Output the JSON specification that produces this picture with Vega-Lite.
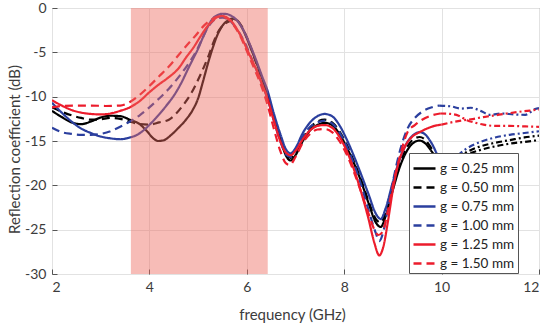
{
  "$schema": "https://vega.github.io/schema/vega-lite/v6.json",
  "width": 487,
  "height": 266,
  "autosize": "none",
  "padding": {"left": 52, "top": 8, "right": 11, "bottom": 52},
  "background": "white",
  "config": {
    "view": {"stroke": "#7a7a7a", "strokeWidth": 1},
    "font": "Lato",
    "axis": {
      "labelFont": "Lato", "titleFont": "Lato", "labelFontSize": 14, "titleFontSize": 15,
      "labelColor": "#3c3c3c", "titleColor": "#3c3c3c", "titleFontWeight": "normal",
      "gridColor": "#e2e2e2", "gridWidth": 1, "domain": false,
      "tickColor": "#555555", "tickSize": -5, "labelPadding": 11
    },
    "legend": {
      "labelFont": "Lato", "labelFontSize": 13.5, "labelColor": "#222222"
    }
  },
  "datasets": {
    "main": [
      {"g":"g = 0.25 mm","f":2.0,"s":-11.6},{"g":"g = 0.25 mm","f":2.2,"s":-12.3},{"g":"g = 0.25 mm","f":2.4,"s":-12.9},{"g":"g = 0.25 mm","f":2.6,"s":-13.1},{"g":"g = 0.25 mm","f":2.8,"s":-12.8},{"g":"g = 0.25 mm","f":3.0,"s":-12.35},{"g":"g = 0.25 mm","f":3.2,"s":-12.15},{"g":"g = 0.25 mm","f":3.4,"s":-12.2},{"g":"g = 0.25 mm","f":3.6,"s":-12.6},{"g":"g = 0.25 mm","f":3.8,"s":-13.1},{"g":"g = 0.25 mm","f":3.95,"s":-13.9},{"g":"g = 0.25 mm","f":4.08,"s":-14.7},{"g":"g = 0.25 mm","f":4.18,"s":-15.0},{"g":"g = 0.25 mm","f":4.3,"s":-14.9},{"g":"g = 0.25 mm","f":4.45,"s":-14.3},{"g":"g = 0.25 mm","f":4.6,"s":-13.5},{"g":"g = 0.25 mm","f":4.75,"s":-12.6},{"g":"g = 0.25 mm","f":4.9,"s":-11.4},{"g":"g = 0.25 mm","f":5.0,"s":-10.2},{"g":"g = 0.25 mm","f":5.1,"s":-8.3},{"g":"g = 0.25 mm","f":5.2,"s":-6.3},{"g":"g = 0.25 mm","f":5.3,"s":-4.5},{"g":"g = 0.25 mm","f":5.4,"s":-3.0},{"g":"g = 0.25 mm","f":5.5,"s":-2.0},{"g":"g = 0.25 mm","f":5.6,"s":-1.45},{"g":"g = 0.25 mm","f":5.7,"s":-1.2},{"g":"g = 0.25 mm","f":5.8,"s":-1.4},{"g":"g = 0.25 mm","f":5.9,"s":-2.2},{"g":"g = 0.25 mm","f":6.0,"s":-3.4},{"g":"g = 0.25 mm","f":6.1,"s":-4.8},{"g":"g = 0.25 mm","f":6.2,"s":-6.2},{"g":"g = 0.25 mm","f":6.3,"s":-7.7},{"g":"g = 0.25 mm","f":6.43,"s":-9.8},{"g":"g = 0.25 mm","f":6.55,"s":-12.3},{"g":"g = 0.25 mm","f":6.7,"s":-15.0},{"g":"g = 0.25 mm","f":6.8,"s":-16.6},{"g":"g = 0.25 mm","f":6.9,"s":-17.2},{"g":"g = 0.25 mm","f":7.0,"s":-16.6},{"g":"g = 0.25 mm","f":7.15,"s":-15.0},{"g":"g = 0.25 mm","f":7.3,"s":-13.8},{"g":"g = 0.25 mm","f":7.45,"s":-13.2},{"g":"g = 0.25 mm","f":7.6,"s":-12.95},{"g":"g = 0.25 mm","f":7.75,"s":-13.2},{"g":"g = 0.25 mm","f":7.9,"s":-14.2},{"g":"g = 0.25 mm","f":8.05,"s":-15.7},{"g":"g = 0.25 mm","f":8.2,"s":-17.5},{"g":"g = 0.25 mm","f":8.35,"s":-19.6},{"g":"g = 0.25 mm","f":8.5,"s":-22.0},{"g":"g = 0.25 mm","f":8.65,"s":-24.2},{"g":"g = 0.25 mm","f":8.75,"s":-24.7},{"g":"g = 0.25 mm","f":8.85,"s":-23.5},{"g":"g = 0.25 mm","f":9.0,"s":-20.5},{"g":"g = 0.25 mm","f":9.15,"s":-17.8},{"g":"g = 0.25 mm","f":9.3,"s":-16.0},{"g":"g = 0.25 mm","f":9.45,"s":-15.1},{"g":"g = 0.25 mm","f":9.55,"s":-14.95},{"g":"g = 0.25 mm","f":9.65,"s":-15.2},{"g":"g = 0.25 mm","f":9.8,"s":-16.2},{"g":"g = 0.25 mm","f":9.95,"s":-17.4},{"g":"g = 0.25 mm","f":10.1,"s":-18.0},

      {"g":"g = 0.50 mm","f":2.0,"s":-11.2},{"g":"g = 0.50 mm","f":2.2,"s":-11.7},{"g":"g = 0.50 mm","f":2.4,"s":-12.1},{"g":"g = 0.50 mm","f":2.6,"s":-12.4},{"g":"g = 0.50 mm","f":2.8,"s":-12.6},{"g":"g = 0.50 mm","f":3.0,"s":-12.55},{"g":"g = 0.50 mm","f":3.2,"s":-12.4},{"g":"g = 0.50 mm","f":3.4,"s":-12.5},{"g":"g = 0.50 mm","f":3.6,"s":-12.8},{"g":"g = 0.50 mm","f":3.8,"s":-13.1},{"g":"g = 0.50 mm","f":4.0,"s":-13.15},{"g":"g = 0.50 mm","f":4.2,"s":-12.9},{"g":"g = 0.50 mm","f":4.4,"s":-12.6},{"g":"g = 0.50 mm","f":4.55,"s":-11.9},{"g":"g = 0.50 mm","f":4.7,"s":-10.9},{"g":"g = 0.50 mm","f":4.85,"s":-9.7},{"g":"g = 0.50 mm","f":5.0,"s":-8.1},{"g":"g = 0.50 mm","f":5.1,"s":-6.9},{"g":"g = 0.50 mm","f":5.2,"s":-5.6},{"g":"g = 0.50 mm","f":5.3,"s":-4.1},{"g":"g = 0.50 mm","f":5.4,"s":-2.8},{"g":"g = 0.50 mm","f":5.5,"s":-2.0},{"g":"g = 0.50 mm","f":5.6,"s":-1.6},{"g":"g = 0.50 mm","f":5.7,"s":-1.4},{"g":"g = 0.50 mm","f":5.8,"s":-1.45},{"g":"g = 0.50 mm","f":5.9,"s":-2.1},{"g":"g = 0.50 mm","f":6.0,"s":-3.3},{"g":"g = 0.50 mm","f":6.1,"s":-4.7},{"g":"g = 0.50 mm","f":6.2,"s":-6.3},{"g":"g = 0.50 mm","f":6.3,"s":-7.9},{"g":"g = 0.50 mm","f":6.43,"s":-10.1},{"g":"g = 0.50 mm","f":6.55,"s":-12.4},{"g":"g = 0.50 mm","f":6.7,"s":-15.0},{"g":"g = 0.50 mm","f":6.8,"s":-16.4},{"g":"g = 0.50 mm","f":6.9,"s":-16.9},{"g":"g = 0.50 mm","f":7.0,"s":-16.3},{"g":"g = 0.50 mm","f":7.15,"s":-14.7},{"g":"g = 0.50 mm","f":7.3,"s":-13.5},{"g":"g = 0.50 mm","f":7.45,"s":-12.8},{"g":"g = 0.50 mm","f":7.6,"s":-12.6},{"g":"g = 0.50 mm","f":7.75,"s":-12.9},{"g":"g = 0.50 mm","f":7.9,"s":-13.9},{"g":"g = 0.50 mm","f":8.05,"s":-15.4},{"g":"g = 0.50 mm","f":8.2,"s":-17.3},{"g":"g = 0.50 mm","f":8.35,"s":-19.4},{"g":"g = 0.50 mm","f":8.5,"s":-21.8},{"g":"g = 0.50 mm","f":8.65,"s":-23.8},{"g":"g = 0.50 mm","f":8.75,"s":-24.2},{"g":"g = 0.50 mm","f":8.85,"s":-23.1},{"g":"g = 0.50 mm","f":9.0,"s":-20.2},{"g":"g = 0.50 mm","f":9.15,"s":-17.4},{"g":"g = 0.50 mm","f":9.3,"s":-15.6},{"g":"g = 0.50 mm","f":9.45,"s":-14.7},{"g":"g = 0.50 mm","f":9.55,"s":-14.55},{"g":"g = 0.50 mm","f":9.65,"s":-14.8},{"g":"g = 0.50 mm","f":9.8,"s":-15.9},{"g":"g = 0.50 mm","f":9.95,"s":-17.2},{"g":"g = 0.50 mm","f":10.1,"s":-17.9},

      {"g":"g = 0.75 mm","f":2.0,"s":-10.7},{"g":"g = 0.75 mm","f":2.2,"s":-11.8},{"g":"g = 0.75 mm","f":2.4,"s":-12.8},{"g":"g = 0.75 mm","f":2.6,"s":-13.6},{"g":"g = 0.75 mm","f":2.8,"s":-14.1},{"g":"g = 0.75 mm","f":3.0,"s":-14.5},{"g":"g = 0.75 mm","f":3.2,"s":-14.7},{"g":"g = 0.75 mm","f":3.4,"s":-14.8},{"g":"g = 0.75 mm","f":3.6,"s":-14.6},{"g":"g = 0.75 mm","f":3.75,"s":-14.3},{"g":"g = 0.75 mm","f":3.9,"s":-13.7},{"g":"g = 0.75 mm","f":4.05,"s":-12.9},{"g":"g = 0.75 mm","f":4.2,"s":-12.0},{"g":"g = 0.75 mm","f":4.35,"s":-11.0},{"g":"g = 0.75 mm","f":4.5,"s":-9.9},{"g":"g = 0.75 mm","f":4.65,"s":-8.5},{"g":"g = 0.75 mm","f":4.8,"s":-6.8},{"g":"g = 0.75 mm","f":4.9,"s":-5.7},{"g":"g = 0.75 mm","f":5.0,"s":-4.6},{"g":"g = 0.75 mm","f":5.1,"s":-3.3},{"g":"g = 0.75 mm","f":5.2,"s":-2.1},{"g":"g = 0.75 mm","f":5.3,"s":-1.2},{"g":"g = 0.75 mm","f":5.4,"s":-0.8},{"g":"g = 0.75 mm","f":5.5,"s":-0.65},{"g":"g = 0.75 mm","f":5.6,"s":-0.7},{"g":"g = 0.75 mm","f":5.7,"s":-0.95},{"g":"g = 0.75 mm","f":5.8,"s":-1.4},{"g":"g = 0.75 mm","f":5.9,"s":-2.2},{"g":"g = 0.75 mm","f":6.0,"s":-3.3},{"g":"g = 0.75 mm","f":6.1,"s":-4.6},{"g":"g = 0.75 mm","f":6.2,"s":-6.0},{"g":"g = 0.75 mm","f":6.3,"s":-7.5},{"g":"g = 0.75 mm","f":6.43,"s":-9.4},{"g":"g = 0.75 mm","f":6.55,"s":-11.8},{"g":"g = 0.75 mm","f":6.7,"s":-14.4},{"g":"g = 0.75 mm","f":6.8,"s":-15.9},{"g":"g = 0.75 mm","f":6.9,"s":-16.4},{"g":"g = 0.75 mm","f":7.0,"s":-15.8},{"g":"g = 0.75 mm","f":7.15,"s":-14.1},{"g":"g = 0.75 mm","f":7.3,"s":-12.9},{"g":"g = 0.75 mm","f":7.45,"s":-12.2},{"g":"g = 0.75 mm","f":7.6,"s":-11.95},{"g":"g = 0.75 mm","f":7.75,"s":-12.2},{"g":"g = 0.75 mm","f":7.9,"s":-13.2},{"g":"g = 0.75 mm","f":8.05,"s":-14.8},{"g":"g = 0.75 mm","f":8.2,"s":-16.7},{"g":"g = 0.75 mm","f":8.35,"s":-18.8},{"g":"g = 0.75 mm","f":8.5,"s":-21.0},{"g":"g = 0.75 mm","f":8.65,"s":-23.2},{"g":"g = 0.75 mm","f":8.75,"s":-23.8},{"g":"g = 0.75 mm","f":8.85,"s":-22.6},{"g":"g = 0.75 mm","f":9.0,"s":-19.6},{"g":"g = 0.75 mm","f":9.15,"s":-16.9},{"g":"g = 0.75 mm","f":9.3,"s":-15.1},{"g":"g = 0.75 mm","f":9.45,"s":-14.2},{"g":"g = 0.75 mm","f":9.55,"s":-14.0},{"g":"g = 0.75 mm","f":9.65,"s":-14.2},{"g":"g = 0.75 mm","f":9.8,"s":-15.3},{"g":"g = 0.75 mm","f":9.95,"s":-16.9},{"g":"g = 0.75 mm","f":10.1,"s":-17.6},

      {"g":"g = 1.00 mm","f":2.0,"s":-13.5},{"g":"g = 1.00 mm","f":2.2,"s":-14.0},{"g":"g = 1.00 mm","f":2.4,"s":-14.2},{"g":"g = 1.00 mm","f":2.6,"s":-14.3},{"g":"g = 1.00 mm","f":2.8,"s":-14.3},{"g":"g = 1.00 mm","f":3.0,"s":-14.2},{"g":"g = 1.00 mm","f":3.2,"s":-13.9},{"g":"g = 1.00 mm","f":3.4,"s":-13.4},{"g":"g = 1.00 mm","f":3.6,"s":-12.8},{"g":"g = 1.00 mm","f":3.8,"s":-12.1},{"g":"g = 1.00 mm","f":4.0,"s":-11.2},{"g":"g = 1.00 mm","f":4.2,"s":-10.2},{"g":"g = 1.00 mm","f":4.4,"s":-9.1},{"g":"g = 1.00 mm","f":4.6,"s":-7.8},{"g":"g = 1.00 mm","f":4.8,"s":-6.3},{"g":"g = 1.00 mm","f":4.95,"s":-5.0},{"g":"g = 1.00 mm","f":5.1,"s":-3.3},{"g":"g = 1.00 mm","f":5.2,"s":-2.2},{"g":"g = 1.00 mm","f":5.3,"s":-1.5},{"g":"g = 1.00 mm","f":5.4,"s":-1.15},{"g":"g = 1.00 mm","f":5.5,"s":-1.1},{"g":"g = 1.00 mm","f":5.6,"s":-1.25},{"g":"g = 1.00 mm","f":5.7,"s":-1.7},{"g":"g = 1.00 mm","f":5.8,"s":-2.4},{"g":"g = 1.00 mm","f":5.9,"s":-3.3},{"g":"g = 1.00 mm","f":6.0,"s":-4.4},{"g":"g = 1.00 mm","f":6.1,"s":-5.7},{"g":"g = 1.00 mm","f":6.2,"s":-7.0},{"g":"g = 1.00 mm","f":6.3,"s":-8.4},{"g":"g = 1.00 mm","f":6.43,"s":-10.3},{"g":"g = 1.00 mm","f":6.55,"s":-12.6},{"g":"g = 1.00 mm","f":6.7,"s":-15.2},{"g":"g = 1.00 mm","f":6.8,"s":-16.5},{"g":"g = 1.00 mm","f":6.9,"s":-16.8},{"g":"g = 1.00 mm","f":7.0,"s":-16.1},{"g":"g = 1.00 mm","f":7.15,"s":-14.5},{"g":"g = 1.00 mm","f":7.3,"s":-13.4},{"g":"g = 1.00 mm","f":7.45,"s":-12.9},{"g":"g = 1.00 mm","f":7.6,"s":-12.7},{"g":"g = 1.00 mm","f":7.75,"s":-13.0},{"g":"g = 1.00 mm","f":7.9,"s":-14.0},{"g":"g = 1.00 mm","f":8.05,"s":-15.6},{"g":"g = 1.00 mm","f":8.2,"s":-17.6},{"g":"g = 1.00 mm","f":8.35,"s":-20.0},{"g":"g = 1.00 mm","f":8.5,"s":-22.8},{"g":"g = 1.00 mm","f":8.65,"s":-25.4},{"g":"g = 1.00 mm","f":8.72,"s":-26.3},{"g":"g = 1.00 mm","f":8.8,"s":-25.3},{"g":"g = 1.00 mm","f":8.9,"s":-22.5},{"g":"g = 1.00 mm","f":9.0,"s":-19.6},{"g":"g = 1.00 mm","f":9.15,"s":-16.0},{"g":"g = 1.00 mm","f":9.3,"s":-13.6},{"g":"g = 1.00 mm","f":9.45,"s":-12.4},{"g":"g = 1.00 mm","f":9.6,"s":-11.7},{"g":"g = 1.00 mm","f":9.8,"s":-11.2},{"g":"g = 1.00 mm","f":9.95,"s":-11.0},

      {"g":"g = 1.25 mm","f":2.0,"s":-10.4},{"g":"g = 1.25 mm","f":2.2,"s":-11.0},{"g":"g = 1.25 mm","f":2.4,"s":-11.5},{"g":"g = 1.25 mm","f":2.6,"s":-11.8},{"g":"g = 1.25 mm","f":2.8,"s":-11.95},{"g":"g = 1.25 mm","f":3.0,"s":-12.0},{"g":"g = 1.25 mm","f":3.2,"s":-11.9},{"g":"g = 1.25 mm","f":3.4,"s":-11.6},{"g":"g = 1.25 mm","f":3.6,"s":-11.2},{"g":"g = 1.25 mm","f":3.8,"s":-10.5},{"g":"g = 1.25 mm","f":4.0,"s":-9.5},{"g":"g = 1.25 mm","f":4.2,"s":-8.6},{"g":"g = 1.25 mm","f":4.4,"s":-7.8},{"g":"g = 1.25 mm","f":4.6,"s":-6.8},{"g":"g = 1.25 mm","f":4.75,"s":-5.6},{"g":"g = 1.25 mm","f":4.9,"s":-4.5},{"g":"g = 1.25 mm","f":5.05,"s":-3.2},{"g":"g = 1.25 mm","f":5.2,"s":-2.0},{"g":"g = 1.25 mm","f":5.3,"s":-1.45},{"g":"g = 1.25 mm","f":5.4,"s":-1.0},{"g":"g = 1.25 mm","f":5.5,"s":-0.9},{"g":"g = 1.25 mm","f":5.6,"s":-1.1},{"g":"g = 1.25 mm","f":5.7,"s":-1.6},{"g":"g = 1.25 mm","f":5.8,"s":-2.4},{"g":"g = 1.25 mm","f":5.9,"s":-3.4},{"g":"g = 1.25 mm","f":6.0,"s":-4.6},{"g":"g = 1.25 mm","f":6.1,"s":-5.8},{"g":"g = 1.25 mm","f":6.2,"s":-7.0},{"g":"g = 1.25 mm","f":6.3,"s":-8.4},{"g":"g = 1.25 mm","f":6.43,"s":-10.3},{"g":"g = 1.25 mm","f":6.55,"s":-12.6},{"g":"g = 1.25 mm","f":6.7,"s":-15.2},{"g":"g = 1.25 mm","f":6.8,"s":-16.3},{"g":"g = 1.25 mm","f":6.9,"s":-16.6},{"g":"g = 1.25 mm","f":7.0,"s":-16.1},{"g":"g = 1.25 mm","f":7.15,"s":-14.8},{"g":"g = 1.25 mm","f":7.3,"s":-13.8},{"g":"g = 1.25 mm","f":7.45,"s":-13.3},{"g":"g = 1.25 mm","f":7.6,"s":-13.2},{"g":"g = 1.25 mm","f":7.75,"s":-13.5},{"g":"g = 1.25 mm","f":7.9,"s":-14.5},{"g":"g = 1.25 mm","f":8.05,"s":-16.1},{"g":"g = 1.25 mm","f":8.2,"s":-18.2},{"g":"g = 1.25 mm","f":8.35,"s":-20.8},{"g":"g = 1.25 mm","f":8.5,"s":-23.8},{"g":"g = 1.25 mm","f":8.62,"s":-26.5},{"g":"g = 1.25 mm","f":8.72,"s":-27.9},{"g":"g = 1.25 mm","f":8.8,"s":-27.0},{"g":"g = 1.25 mm","f":8.9,"s":-24.0},{"g":"g = 1.25 mm","f":9.0,"s":-20.5},{"g":"g = 1.25 mm","f":9.1,"s":-17.8},{"g":"g = 1.25 mm","f":9.25,"s":-15.6},{"g":"g = 1.25 mm","f":9.4,"s":-14.5},{"g":"g = 1.25 mm","f":9.55,"s":-14.0},{"g":"g = 1.25 mm","f":9.7,"s":-13.6},{"g":"g = 1.25 mm","f":9.85,"s":-13.3},{"g":"g = 1.25 mm","f":10.0,"s":-13.15},

      {"g":"g = 1.50 mm","f":2.0,"s":-11.2},{"g":"g = 1.50 mm","f":2.2,"s":-11.05},{"g":"g = 1.50 mm","f":2.5,"s":-11.0},{"g":"g = 1.50 mm","f":2.8,"s":-11.0},{"g":"g = 1.50 mm","f":3.1,"s":-11.05},{"g":"g = 1.50 mm","f":3.4,"s":-11.0},{"g":"g = 1.50 mm","f":3.6,"s":-10.6},{"g":"g = 1.50 mm","f":3.8,"s":-9.8},{"g":"g = 1.50 mm","f":4.0,"s":-8.8},{"g":"g = 1.50 mm","f":4.2,"s":-7.7},{"g":"g = 1.50 mm","f":4.4,"s":-6.6},{"g":"g = 1.50 mm","f":4.6,"s":-5.3},{"g":"g = 1.50 mm","f":4.8,"s":-4.0},{"g":"g = 1.50 mm","f":4.95,"s":-3.1},{"g":"g = 1.50 mm","f":5.1,"s":-2.1},{"g":"g = 1.50 mm","f":5.25,"s":-1.4},{"g":"g = 1.50 mm","f":5.4,"s":-1.0},{"g":"g = 1.50 mm","f":5.55,"s":-1.05},{"g":"g = 1.50 mm","f":5.65,"s":-1.4},{"g":"g = 1.50 mm","f":5.75,"s":-2.1},{"g":"g = 1.50 mm","f":5.85,"s":-3.0},{"g":"g = 1.50 mm","f":5.95,"s":-4.2},{"g":"g = 1.50 mm","f":6.05,"s":-5.5},{"g":"g = 1.50 mm","f":6.15,"s":-6.8},{"g":"g = 1.50 mm","f":6.3,"s":-8.8},{"g":"g = 1.50 mm","f":6.43,"s":-11.0},{"g":"g = 1.50 mm","f":6.55,"s":-13.5},{"g":"g = 1.50 mm","f":6.68,"s":-16.0},{"g":"g = 1.50 mm","f":6.8,"s":-17.5},{"g":"g = 1.50 mm","f":6.88,"s":-17.7},{"g":"g = 1.50 mm","f":7.0,"s":-16.8},{"g":"g = 1.50 mm","f":7.15,"s":-15.2},{"g":"g = 1.50 mm","f":7.3,"s":-14.2},{"g":"g = 1.50 mm","f":7.45,"s":-13.7},{"g":"g = 1.50 mm","f":7.6,"s":-13.65},{"g":"g = 1.50 mm","f":7.75,"s":-14.0},{"g":"g = 1.50 mm","f":7.9,"s":-15.0},{"g":"g = 1.50 mm","f":8.05,"s":-16.5},{"g":"g = 1.50 mm","f":8.2,"s":-18.5},{"g":"g = 1.50 mm","f":8.35,"s":-20.8},{"g":"g = 1.50 mm","f":8.5,"s":-23.2},{"g":"g = 1.50 mm","f":8.62,"s":-25.0},{"g":"g = 1.50 mm","f":8.7,"s":-25.6},{"g":"g = 1.50 mm","f":8.78,"s":-25.3},{"g":"g = 1.50 mm","f":8.9,"s":-22.8},{"g":"g = 1.50 mm","f":9.0,"s":-20.0},{"g":"g = 1.50 mm","f":9.15,"s":-16.6},{"g":"g = 1.50 mm","f":9.3,"s":-14.0},{"g":"g = 1.50 mm","f":9.45,"s":-13.2},{"g":"g = 1.50 mm","f":9.6,"s":-12.6},{"g":"g = 1.50 mm","f":9.8,"s":-12.1},{"g":"g = 1.50 mm","f":9.97,"s":-11.9}
    ],
    "tail": [
      {"g":"g = 0.25 mm","f":10.1,"s":-18.0},{"g":"g = 0.25 mm","f":10.25,"s":-17.5},{"g":"g = 0.25 mm","f":10.5,"s":-16.6},{"g":"g = 0.25 mm","f":10.8,"s":-16.0},{"g":"g = 0.25 mm","f":11.1,"s":-15.6},{"g":"g = 0.25 mm","f":11.4,"s":-15.3},{"g":"g = 0.25 mm","f":11.7,"s":-15.1},{"g":"g = 0.25 mm","f":12.0,"s":-14.9},
      {"g":"g = 0.50 mm","f":10.1,"s":-17.9},{"g":"g = 0.50 mm","f":10.25,"s":-17.3},{"g":"g = 0.50 mm","f":10.5,"s":-16.3},{"g":"g = 0.50 mm","f":10.8,"s":-15.6},{"g":"g = 0.50 mm","f":11.1,"s":-15.2},{"g":"g = 0.50 mm","f":11.4,"s":-14.9},{"g":"g = 0.50 mm","f":11.7,"s":-14.6},{"g":"g = 0.50 mm","f":12.0,"s":-14.4},
      {"g":"g = 0.75 mm","f":10.1,"s":-17.6},{"g":"g = 0.75 mm","f":10.25,"s":-17.0},{"g":"g = 0.75 mm","f":10.5,"s":-15.9},{"g":"g = 0.75 mm","f":10.8,"s":-15.1},{"g":"g = 0.75 mm","f":11.1,"s":-14.6},{"g":"g = 0.75 mm","f":11.4,"s":-14.3},{"g":"g = 0.75 mm","f":11.7,"s":-14.1},{"g":"g = 0.75 mm","f":12.0,"s":-13.9},
      {"g":"g = 1.00 mm","f":9.95,"s":-11.0},{"g":"g = 1.00 mm","f":10.2,"s":-11.1},{"g":"g = 1.00 mm","f":10.4,"s":-11.35},{"g":"g = 1.00 mm","f":10.6,"s":-11.25},{"g":"g = 1.00 mm","f":10.8,"s":-11.6},{"g":"g = 1.00 mm","f":11.0,"s":-12.05},{"g":"g = 1.00 mm","f":11.24,"s":-11.9},{"g":"g = 1.00 mm","f":11.48,"s":-12.0},{"g":"g = 1.00 mm","f":11.72,"s":-12.05},{"g":"g = 1.00 mm","f":11.92,"s":-11.4},{"g":"g = 1.00 mm","f":12.0,"s":-11.3},
      {"g":"g = 1.25 mm","f":10.0,"s":-13.15},{"g":"g = 1.25 mm","f":10.2,"s":-12.9},{"g":"g = 1.25 mm","f":10.4,"s":-12.7},{"g":"g = 1.25 mm","f":10.6,"s":-12.55},{"g":"g = 1.25 mm","f":10.86,"s":-12.3},{"g":"g = 1.25 mm","f":11.1,"s":-12.1},{"g":"g = 1.25 mm","f":11.34,"s":-11.9},{"g":"g = 1.25 mm","f":11.6,"s":-11.7},{"g":"g = 1.25 mm","f":11.92,"s":-11.5},{"g":"g = 1.25 mm","f":12.0,"s":-11.45},
      {"g":"g = 1.50 mm","f":9.97,"s":-11.9},{"g":"g = 1.50 mm","f":10.18,"s":-11.95},{"g":"g = 1.50 mm","f":10.35,"s":-12.15},{"g":"g = 1.50 mm","f":10.52,"s":-12.65},{"g":"g = 1.50 mm","f":10.7,"s":-12.95},{"g":"g = 1.50 mm","f":10.86,"s":-13.15},{"g":"g = 1.50 mm","f":11.1,"s":-13.3},{"g":"g = 1.50 mm","f":11.4,"s":-13.3},{"g":"g = 1.50 mm","f":11.7,"s":-13.35},{"g":"g = 1.50 mm","f":12.0,"s":-13.4}
    ],
    "band": [{"f1": 3.62, "f2": 6.43}]
  },
  "layer": [
    {
      "data": {"name": "main"},
      "mark": {"type": "line", "strokeWidth": 2.2, "interpolate": "monotone", "clip": true},
      "encoding": {
        "x": {"field": "f", "type": "quantitative",
              "scale": {"domain": [2, 12], "nice": false},
              "axis": {"values": [2, 4, 6, 8, 10, 12], "title": "frequency (GHz)", "titleX": 240, "titleY": 45, "titleBaseline": "alphabetic"}},
        "y": {"field": "s", "type": "quantitative",
              "scale": {"domain": [-30, 0], "nice": false},
              "axis": {"values": [-30, -25, -20, -15, -10, -5, 0], "labelExpr": "datum.value + ''", "title": "Reflection coefficient (dB)", "titleX": -33, "titleY": 141, "titleAngle": -90, "titleBaseline": "alphabetic", "titleAlign": "center"}},
        "color": {"field": "g", "type": "nominal",
                  "scale": {"domain": ["g = 0.25 mm", "g = 0.50 mm", "g = 0.75 mm", "g = 1.00 mm", "g = 1.25 mm", "g = 1.50 mm"],
                            "range": ["#000000", "#000000", "#2b3f9e", "#2b3f9e", "#ec1c2c", "#ec1c2c"]},
                  "legend": {"orient": "none", "legendX": 357, "legendY": 145, "title": null, "fillColor": "white", "strokeColor": "#555555", "padding": 3, "symbolType": "stroke", "symbolSize": 484, "symbolStrokeWidth": 2.5, "labelOffset": 3, "rowPadding": -1}},
        "strokeDash": {"field": "g", "type": "nominal",
                  "scale": {"domain": ["g = 0.25 mm", "g = 0.50 mm", "g = 0.75 mm", "g = 1.00 mm", "g = 1.25 mm", "g = 1.50 mm"],
                            "range": [[1, 0], [8, 5], [1, 0], [8, 5], [1, 0], [8, 5]]},
                  "legend": {"orient": "none", "legendX": 357, "legendY": 145, "title": null, "fillColor": "white", "strokeColor": "#555555", "padding": 3, "symbolType": "stroke", "symbolSize": 484, "symbolStrokeWidth": 2.5, "labelOffset": 3, "rowPadding": -1}}
      }
    },
    {
      "data": {"name": "tail"},
      "mark": {"type": "line", "strokeWidth": 2.2, "interpolate": "monotone", "strokeDash": [6, 3, 2, 3], "clip": true},
      "encoding": {
        "x": {"field": "f", "type": "quantitative"},
        "y": {"field": "s", "type": "quantitative"},
        "color": {"field": "g", "type": "nominal", "legend": null},
        "detail": {"field": "g"}
      }
    },
    {
      "data": {"name": "band"},
      "mark": {"type": "rect", "color": "#ee6a5f", "opacity": 0.45},
      "encoding": {
        "x": {"field": "f1", "type": "quantitative"},
        "x2": {"field": "f2"}
      }
    }
  ]
}
